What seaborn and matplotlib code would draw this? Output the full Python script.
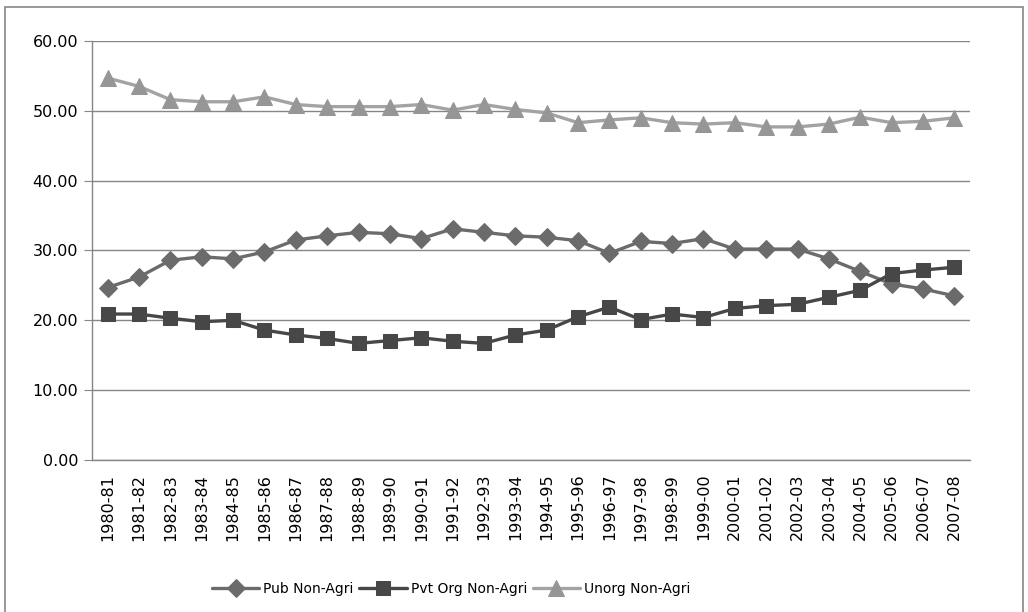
import numpy as np
import pandas as pd
import matplotlib
matplotlib.use("Agg")
import matplotlib.pyplot as plt
import seaborn as sns
from matplotlib.patches import Rectangle
from matplotlib.ticker import FixedLocator

years = ["1980-81", "1981-82", "1982-83", "1983-84", "1984-85", "1985-86", "1986-87",
         "1987-88", "1988-89", "1989-90", "1990-91", "1991-92", "1992-93", "1993-94",
         "1994-95", "1995-96", "1996-97", "1997-98", "1998-99", "1999-00", "2000-01",
         "2001-02", "2002-03", "2003-04", "2004-05", "2005-06", "2006-07", "2007-08"]

pub = [24.7, 26.2, 28.6, 29.1, 28.8, 29.8, 31.5, 32.1, 32.6, 32.4, 31.7, 33.1, 32.6, 32.1,
       31.9, 31.4, 29.6, 31.3, 31.0, 31.7, 30.2, 30.2, 30.2, 28.8, 27.0, 25.2, 24.5, 23.5]
pvt = [20.9, 20.9, 20.3, 19.8, 20.0, 18.6, 17.9, 17.4, 16.7, 17.1, 17.5, 17.0, 16.7, 17.9,
       18.6, 20.5, 21.9, 20.1, 20.9, 20.4, 21.7, 22.1, 22.3, 23.3, 24.3, 26.7, 27.2, 27.6]
unorg = [54.7, 53.5, 51.6, 51.3, 51.3, 52.0, 50.9, 50.6, 50.6, 50.6, 50.9, 50.1, 50.9, 50.2,
         49.7, 48.3, 48.7, 49.0, 48.3, 48.1, 48.3, 47.7, 47.7, 48.1, 49.1, 48.3, 48.5, 49.0]

series = ["Pub Non-Agri", "Pvt Org Non-Agri", "Unorg Non-Agri"]

sns.set_style("white")
plt.rcParams['font.family'] = ['DejaVu Sans']
plt.rcParams['text.color'] = 'black'
plt.rcParams['xtick.color'] = 'black'
plt.rcParams['ytick.color'] = 'black'

fig = plt.figure(figsize=(10.28, 6.12), dpi=100)
ax = fig.add_axes([0.0895, 0.2484, 0.8541, 0.6846])

x = np.arange(len(years))
styles = [
    (pub, "#6b6b6b", "D", 9),
    (pvt, "#474747", "s", 10),
    (unorg, "#a3a3a3", "^", 11),
]
for name, (vals, col, mk, ms) in zip(series, styles):
    df = pd.DataFrame({"x": x, "y": vals})
    mcol = col if mk != "^" else "#969696"
    sns.lineplot(data=df, x="x", y="y", ax=ax, color=col, lw=2.4, marker=mk,
                 markersize=ms, markeredgecolor=mcol, markerfacecolor=mcol,
                 label=name, zorder=3)

ax.set_xlim(-0.5, len(years) - 0.5)
ax.set_ylim(0, 60)
ax.set_yticks(np.arange(0, 61, 10))
ax.set_yticklabels([f"{v:.2f}" for v in np.arange(0, 61, 10)], fontsize=11.5)
ax.set_xticks(x)
ax.set_xticklabels(years, rotation=90, fontsize=11.5)
ax.xaxis.set_minor_locator(FixedLocator(np.arange(-0.5, len(years), 1)))
ax.tick_params(axis="x", which="major", length=0, pad=10)
ax.tick_params(axis="x", which="minor", length=6, color="#868686", direction="out")
ax.tick_params(axis="y", length=6, color="#868686", labelcolor="black",
               direction="out", left=True, pad=4)
ax.tick_params(axis="x", labelcolor="black")
ax.set_xlabel("")
ax.set_ylabel("")
ax.grid(axis="y", color="#868686", lw=1)
ax.set_axisbelow(True)
for s in ["top", "right"]:
    ax.spines[s].set_visible(False)
for s in ["left", "bottom"]:
    ax.spines[s].set_color("#868686")
    ax.spines[s].set_linewidth(1)

ax.legend_.remove()
handles, labels = ax.get_legend_handles_labels()
leg = fig.legend(handles, labels, loc="center", bbox_to_anchor=(0.439, 0.038), ncol=3,
                 frameon=False, fontsize=10, handlelength=3.4, columnspacing=0.4,
                 handletextpad=0.3)
for t in leg.get_texts():
    t.set_color("black")

fig.patches.append(Rectangle((0.005, -0.01), 0.99, 0.998, transform=fig.transFigure,
                             fill=False, edgecolor="#868686", lw=1.2))

fig.savefig("out.png", dpi=100)
